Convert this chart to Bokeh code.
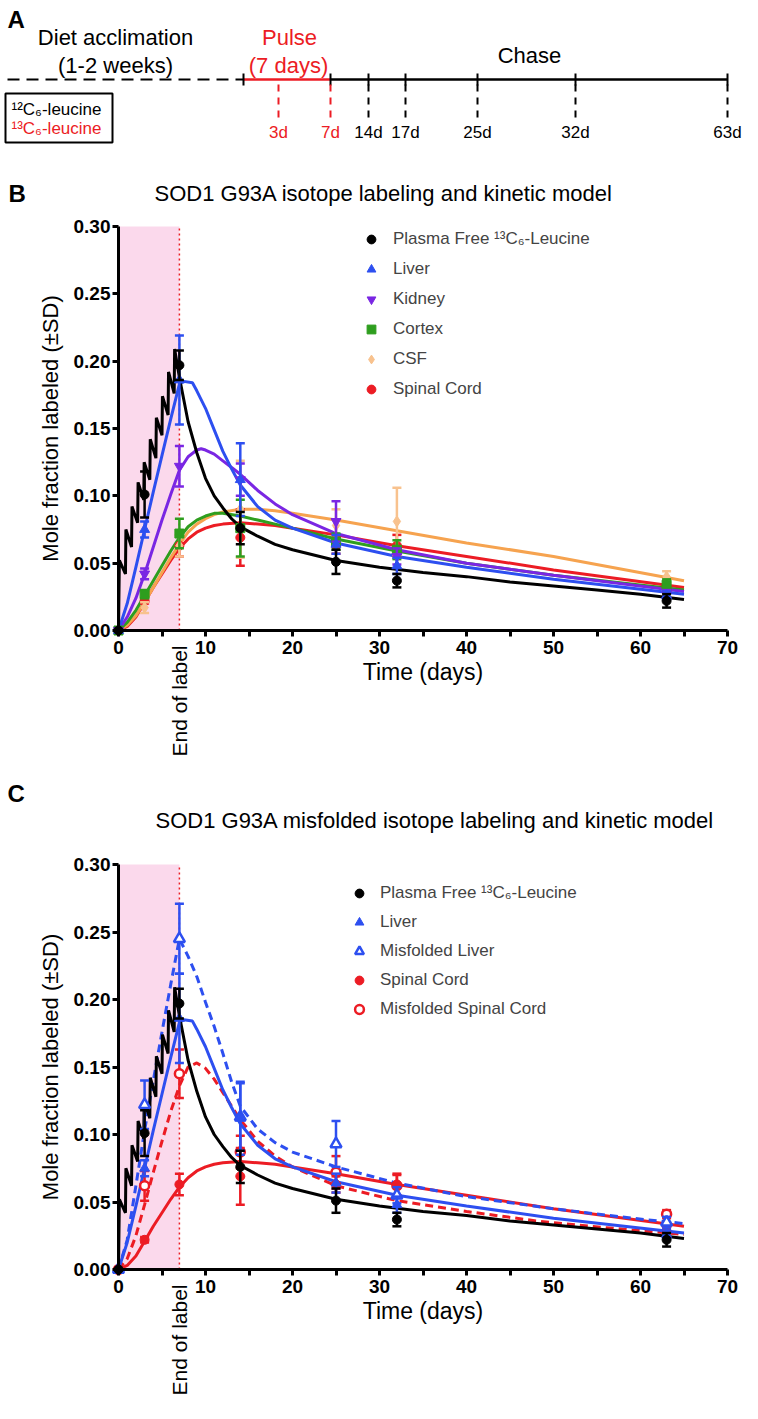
from math import pi
from bokeh.plotting import figure
from bokeh.models import (Range1d, ColumnDataSource, Legend, LegendItem, LinearAxis,
                          FixedTicker, PrintfTickFormatter)
from bokeh.embed import file_html
from bokeh.resources import INLINE
from bokeh.core.properties import value

FONT = "Liberation Sans"

# ---------------- data ----------------
schedule_days = [3, 7, 14, 17, 25, 32, 63]
schedule_labels = ["3d", "7d", "14d", "17d", "25d", "32d", "63d"]
pulse_days = 7

x_ticks = [0, 10, 20, 30, 40, 50, 60, 70]
x_minor = [5, 15, 25, 35, 45, 55, 65]
y_ticks = [0.0, 0.05, 0.10, 0.15, 0.20, 0.25, 0.30]

t_obs = [0, 3, 7, 14, 25, 32, 63]
plasma_mean = [0, 0.101, 0.197, 0.076, 0.051, 0.037, 0.022]
plasma_sd = [0, 0.017, 0.011, 0.012, 0.009, 0.005, 0.005]
liver_mean = [0, 0.075, 0.186, 0.112, 0.064, 0.048, 0.026]
liver_sd = [0, 0.006, 0.033, 0.027, 0.007, 0.006, 0.003]
kidney_mean = [0, 0.042, 0.122, 0.112, 0.081, 0.055, 0.027]
kidney_sd = [0, 0.004, 0.015, 0.012, 0.015, 0.006, 0.003]
cortex_mean = [0, 0.027, 0.072, 0.076, 0.066, 0.060, 0.034]
cortex_sd = [0, 0.003, 0.011, 0.021, 0.006, 0.007, 0.004]
csf_mean = [0, 0.017, 0.063, 0.090, 0.078, 0.081, 0.040]
csf_sd = [0, 0.004, 0.008, 0.036, 0.012, 0.025, 0.004]
spinal_mean = [0, 0.022, 0.063, 0.069, 0.063, 0.063, 0.032]
spinal_sd = [0, 0.002, 0.008, 0.021, 0.006, 0.008, 0.003]
misliver_mean = [0, 0.122, 0.245, 0.113, 0.093, 0.055, 0.035]
misliver_sd = [0, 0.018, 0.026, 0.025, 0.017, 0.006, 0.004]
misspinal_mean = [0, 0.062, 0.145, 0.087, 0.072, 0.062, 0.041]
misspinal_sd = [0, 0.011, 0.018, 0.012, 0.012, 0.008, 0.003]

# kinetic model curves
plasma_fit_t = [0.0, 0.10, 0.80, 0.85, 1.50, 1.55, 2.20, 2.25, 2.90, 2.95, 3.60, 3.65,
                4.30, 4.35, 5.00, 5.05, 5.70, 5.75, 6.40, 6.45, 7.00, 8, 9, 10, 11, 12,
                13, 14, 16, 18, 20, 25, 30, 35, 40, 45, 50, 55, 60, 65]
plasma_fit = [0.0, 0.052, 0.042, 0.075, 0.062, 0.092, 0.080, 0.110, 0.097, 0.125, 0.112,
              0.142, 0.128, 0.158, 0.145, 0.174, 0.160, 0.192, 0.176, 0.209, 0.188, 0.155,
              0.132, 0.113, 0.100, 0.091, 0.083, 0.077, 0.070, 0.064, 0.060, 0.052, 0.047,
              0.043, 0.040, 0.036, 0.033, 0.030, 0.027, 0.023]
liver_fit_t = [0, 1, 2, 3, 4, 5, 6, 7, 7.5, 8.5, 9, 10, 11, 12, 13, 14, 16, 18, 20, 25,
               32, 40, 50, 65]
liver_fit = [0, 0.020, 0.047, 0.075, 0.103, 0.130, 0.157, 0.183, 0.185, 0.184, 0.178,
             0.165, 0.149, 0.133, 0.120, 0.108, 0.092, 0.082, 0.076, 0.065, 0.055, 0.047,
             0.038, 0.027]
kidney_fit_t = [0, 1, 2, 3, 4, 5, 6, 7, 8, 9, 9.5, 10, 11, 12, 13, 14, 16, 18, 20, 25,
                32, 40, 50, 65]
kidney_fit = [0, 0.010, 0.024, 0.042, 0.062, 0.082, 0.101, 0.119, 0.129, 0.134, 0.135,
              0.134, 0.131, 0.126, 0.121, 0.116, 0.104, 0.094, 0.086, 0.072, 0.060, 0.050,
              0.041, 0.029]
cortex_fit_t = [0, 1, 2, 3, 4, 5, 6, 7, 8, 9, 10, 11, 12, 14, 16, 18, 20, 25, 32, 40, 50, 65]
cortex_fit = [0, 0.006, 0.015, 0.026, 0.037, 0.048, 0.059, 0.069, 0.077, 0.082, 0.085,
              0.087, 0.087, 0.085, 0.082, 0.079, 0.076, 0.068, 0.059, 0.050, 0.041, 0.030]
csf_fit_t = [0, 1, 2, 3, 4, 5, 6, 7, 8, 9, 10, 11, 12, 14, 16, 18, 20, 25, 32, 40, 50, 65]
csf_fit = [0, 0.004, 0.011, 0.021, 0.032, 0.043, 0.054, 0.064, 0.073, 0.079, 0.083, 0.086,
           0.088, 0.090, 0.090, 0.089, 0.087, 0.082, 0.074, 0.065, 0.055, 0.037]
spinal_fit_t = [0, 1, 2, 3, 4, 5, 6, 7, 8, 9, 10, 11, 12, 14, 16, 18, 20, 25, 32, 40, 50, 65]
spinal_fit = [0, 0.003, 0.010, 0.021, 0.032, 0.042, 0.052, 0.061, 0.068, 0.073, 0.076,
              0.078, 0.079, 0.080, 0.079, 0.078, 0.076, 0.071, 0.063, 0.055, 0.045, 0.032]
misliver_fit_t = [0, 1, 2, 3, 4, 5, 6, 7, 8, 9, 10, 11, 12, 13, 14, 16, 18, 20, 25, 32,
                  40, 50, 59, 65]
misliver_fit = [0, 0.022, 0.062, 0.103, 0.140, 0.176, 0.211, 0.245, 0.232, 0.217, 0.198,
                0.180, 0.160, 0.139, 0.121, 0.104, 0.094, 0.087, 0.076, 0.064, 0.054, 0.045,
                0.038, 0.034]
misspinal_fit_t = [0, 1, 2, 3, 4, 5, 6, 7, 8, 9, 10, 11, 12, 13, 14, 16, 18, 20, 25, 32,
                   40, 48, 56, 65]
misspinal_fit = [0, 0.008, 0.025, 0.048, 0.072, 0.095, 0.117, 0.136, 0.150, 0.153, 0.149,
                 0.141, 0.131, 0.121, 0.111, 0.095, 0.084, 0.076, 0.062, 0.051, 0.043, 0.036,
                 0.031, 0.026]

# ---------------- styles / layout ----------------
RED = "#ec1c24"
BLUE = "#2d4ff0"
PURPLE = "#7a26e3"
GREEN = "#2e9e1e"
ORANGE_LINE = "#f6a34f"
ORANGE_PT = "#f8c28e"
PINK = "#fbd9ec"

W, H = 756, 1416
# pixel layout of the two data panels (page pixels)
X_LEFT_PX, X_RIGHT_PX = 118, 727          # x = 0 and x = 70
PANEL_PX = {"B": (630, 226), "C": (1269, 864)}  # y = 0 and y = 0.30


def mapped_range(v_a, px_a, v_b, px_b, px_start, px_end):
    k = (v_b - v_a) / (px_b - px_a)
    return Range1d(start=v_a + (px_start - px_a) * k, end=v_a + (px_end - px_a) * k)


p = figure(width=W, height=H, x_range=Range1d(0, W), y_range=Range1d(H, 0),
           x_axis_location=None, y_axis_location=None, output_backend="svg",
           toolbar_location=None, min_border=0, min_border_left=0, min_border_right=0,
           min_border_top=0, min_border_bottom=0)
p.outline_line_color = None
p.grid.visible = False
p.extra_x_ranges = {"days": mapped_range(0, X_LEFT_PX, 70, X_RIGHT_PX, 0, W)}
p.extra_y_ranges = {k: mapped_range(0, v[0], 0.30, v[1], H, 0) for k, v in PANEL_PX.items()}


def txt(x, y, s, size, color="black", align="center", style="normal", baseline="middle",
        angle=0.0, x_range_name="default"):
    p.text(x=[x], y=[y], text=[s], text_font=value(FONT), text_font_size=size,
           text_color=color, text_align=align, text_baseline=baseline,
           text_font_style=style, angle=angle, x_range_name=x_range_name)


# ---------------- panel A (schematic timeline) ----------------
TL_Y = 79
X_ACC, X_PULSE = 7, 243
sched_px = [278, 330, 368, 405, 477, 575, 727]

p.line([X_ACC, X_PULSE], [TL_Y, TL_Y], line_color="black", line_width=2, line_dash="12 7")
p.line([X_PULSE, sched_px[1]], [TL_Y, TL_Y], line_color=RED, line_width=2.5)
p.line([sched_px[1], sched_px[-1]], [TL_Y, TL_Y], line_color="black", line_width=2.5)
p.segment(x0=[X_PULSE], y0=[TL_Y - 6], x1=[X_PULSE], y1=[TL_Y + 6], line_color="black",
          line_width=2)
for d, lab, xp in zip(schedule_days, schedule_labels, sched_px):
    c = RED if d <= pulse_days else "black"
    if d >= pulse_days:
        p.segment(x0=[xp], y0=[TL_Y - 6], x1=[xp], y1=[TL_Y + 6], line_color="black",
                  line_width=2)
    p.line([xp, xp], [TL_Y + 5, 123], line_color=c, line_width=2, line_dash="7 6")
    txt(xp, 132, lab, "17px", color=c)

txt(7, 19, "A", "24px", align="left", style="bold")
txt(115, 37, "Diet acclimation", "22px")
txt(115, 65, "(1-2 weeks)", "22px")
txt(289, 37, "Pulse", "22px", color=RED)
txt(288, 65, "(7 days)", "22px", color=RED)
txt(529, 55, "Chase", "22px")
p.quad(left=[5], right=[112], top=[93], bottom=[142], fill_color=None, line_color="black",
       line_width=2)
txt(11, 109, "\u00b9\u00b2C\u2086-leucine", "17px", align="left")
txt(11, 128, "\u00b9\u00b3C\u2086-leucine", "17px", color=RED, align="left")


# ---------------- panels B and C ----------------
def style_axis(ax):
    ax.axis_line_width = 3
    ax.major_tick_line_width = 3
    ax.minor_tick_line_width = 3
    ax.major_tick_out = 6
    ax.major_tick_in = 0
    ax.minor_tick_in = 0
    ax.major_label_text_font = FONT
    ax.major_label_text_font_size = "19px"
    ax.major_label_text_font_style = "bold"
    ax.major_label_text_color = "black"
    ax.axis_label_text_font = FONT
    ax.axis_label_text_font_size = "22px"
    ax.axis_label_text_font_style = "normal"
    ax.axis_label_text_color = "black"


def panel_frame(name):
    p.quad(left=[0], right=[pulse_days], bottom=[0], top=[0.30], fill_color=PINK,
           line_color=None, x_range_name="days", y_range_name=name)
    p.line([pulse_days, pulse_days], [0, 0.30], line_color=RED, line_width=1.5,
           line_dash="2 3", x_range_name="days", y_range_name=name)
    ya = LinearAxis(x_range_name="days", y_range_name=name, fixed_location=0,
                    bounds=(0, 0.30), ticker=FixedTicker(ticks=y_ticks),
                    formatter=PrintfTickFormatter(format="%.2f"),
                    axis_label="Mole fraction labeled (\u00b1SD)")
    style_axis(ya)
    ya.minor_tick_out = 0
    ya.major_label_standoff = 2
    ya.axis_label_standoff = 8
    xa = LinearAxis(x_range_name="days", y_range_name=name, fixed_location=0,
                    bounds=(0, 70), ticker=FixedTicker(ticks=x_ticks, minor_ticks=x_minor),
                    axis_label="Time (days)")
    style_axis(xa)
    xa.minor_tick_out = 6
    xa.major_label_standoff = 4
    xa.axis_label_standoff = 2
    xa.axis_label_text_font_size = "23px"
    p.add_layout(ya, "left")
    p.add_layout(xa, "below")
    # rotated marker text under the axis at the end of the pulse
    txt(pulse_days, PANEL_PX[name][0] + 15, "End of label", "21px", align="right",
        angle=pi / 2, x_range_name="days")


def fit_line(name, t, y, color, dash="solid"):
    p.line(t, y, line_color=color, line_width=3, line_dash=dash, x_range_name="days",
           y_range_name=name)


def points(name, mean, sd, color, marker, size, hollow=False):
    eb = [(t, m - s, m + s) for t, m, s in zip(t_obs, mean, sd) if s > 0]
    src = ColumnDataSource(dict(t=[e[0] for e in eb], lo=[e[1] for e in eb],
                                hi=[e[2] for e in eb]))
    kw = dict(x_range_name="days", y_range_name=name)
    p.segment(x0="t", y0="lo", x1="t", y1="hi", source=src, line_color=color,
              line_width=2.5, **kw)
    p.scatter(x="t", y="hi", source=src, marker="dash", size=9, line_color=color,
              line_width=2.5, **kw)
    p.scatter(x="t", y="lo", source=src, marker="dash", size=9, line_color=color,
              line_width=2.5, **kw)
    if hollow:
        return p.scatter(t_obs, mean, marker=marker, size=size, fill_color="white",
                         line_color=color, line_width=2.5, **kw)
    return p.scatter(t_obs, mean, marker=marker, size=size, fill_color=color,
                     line_color=color, line_width=1, **kw)


def panel_legend(items, left_px, top_px, spacing, standoff):
    n = len(items)
    height = n * 22 + (n - 1) * spacing
    lg = Legend(items=[LegendItem(label=l, renderers=[r]) for l, r in items],
                location=(left_px, H - (top_px + height)), orientation="vertical",
                glyph_width=22, glyph_height=22, label_standoff=standoff, spacing=spacing,
                padding=0, margin=0, border_line_color=None, background_fill_alpha=0,
                label_text_font=FONT, label_text_font_size="17px")
    p.add_layout(lg)


PLASMA_LABEL = "Plasma Free \u00b9\u00b3C\u2086-Leucine"

# Panel B
txt(8, 193, "B", "24px", align="left", style="bold")
txt(154, 193, "SOD1 G93A isotope labeling and kinetic model", "22px", align="left")
panel_frame("B")
fit_line("B", spinal_fit_t, spinal_fit, RED)
fit_line("B", csf_fit_t, csf_fit, ORANGE_LINE)
fit_line("B", cortex_fit_t, cortex_fit, GREEN)
fit_line("B", kidney_fit_t, kidney_fit, PURPLE)
fit_line("B", liver_fit_t, liver_fit, BLUE)
fit_line("B", plasma_fit_t, plasma_fit, "black")
r_sc = points("B", spinal_mean, spinal_sd, RED, "circle", 9)
r_csf = points("B", csf_mean, csf_sd, ORANGE_PT, "diamond", 11)
r_cx = points("B", cortex_mean, cortex_sd, GREEN, "square", 9)
r_kd = points("B", kidney_mean, kidney_sd, PURPLE, "inverted_triangle", 10)
r_lv = points("B", liver_mean, liver_sd, BLUE, "triangle", 10)
r_pl = points("B", plasma_mean, plasma_sd, "black", "circle", 9)
panel_legend([(PLASMA_LABEL, r_pl), ("Liver", r_lv), ("Kidney", r_kd), ("Cortex", r_cx),
              ("CSF", r_csf), ("Spinal Cord", r_sc)], 360, 228, 8, 11)

# Panel C
txt(7, 793, "C", "24px", align="left", style="bold")
txt(155, 820, "SOD1 G93A misfolded isotope labeling and kinetic model", "22px", align="left")
panel_frame("C")
fit_line("C", misspinal_fit_t, misspinal_fit, RED, "8 5")
fit_line("C", spinal_fit_t, spinal_fit, RED)
fit_line("C", misliver_fit_t, misliver_fit, BLUE, "8 5")
fit_line("C", liver_fit_t, liver_fit, BLUE)
fit_line("C", plasma_fit_t, plasma_fit, "black")
c_msc = points("C", misspinal_mean, misspinal_sd, RED, "circle", 9, hollow=True)
c_sc = points("C", spinal_mean, spinal_sd, RED, "circle", 9)
c_mlv = points("C", misliver_mean, misliver_sd, BLUE, "triangle", 11, hollow=True)
c_lv = points("C", liver_mean, liver_sd, BLUE, "triangle", 10)
c_pl = points("C", plasma_mean, plasma_sd, "black", "circle", 9)
panel_legend([(PLASMA_LABEL, c_pl), ("Liver", c_lv), ("Misfolded Liver", c_mlv),
              ("Spinal Cord", c_sc), ("Misfolded Spinal Cord", c_msc)], 348, 882, 7, 10)

open("out.html", "w").write(file_html(p, INLINE))
